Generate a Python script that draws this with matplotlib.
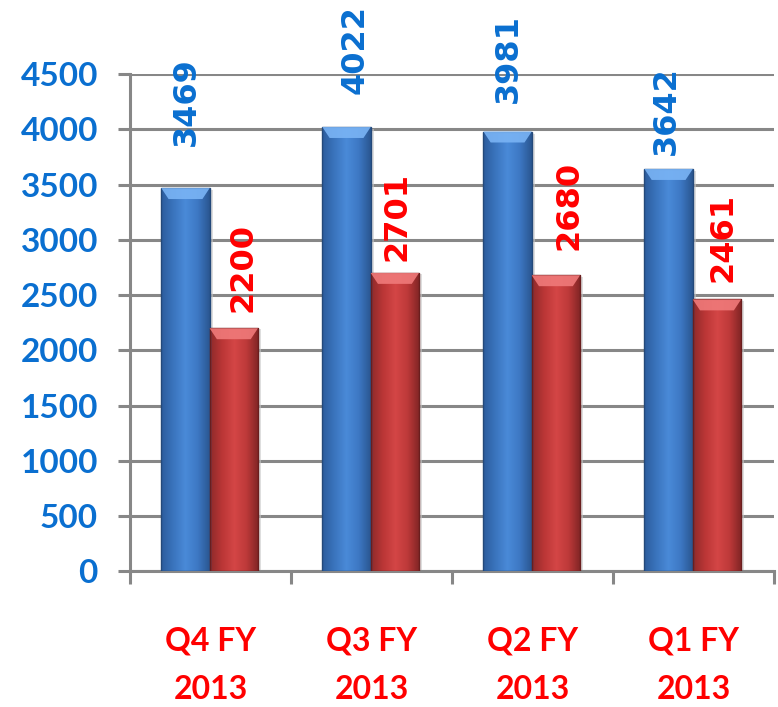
import numpy as np
import matplotlib
matplotlib.use('Agg')
import matplotlib.pyplot as plt
from matplotlib.colors import LinearSegmentedColormap
from matplotlib.patches import Rectangle, Polygon

# datos del grafico
categorias = ['Q4 FY\n2013', 'Q3 FY\n2013', 'Q2 FY\n2013', 'Q1 FY\n2013']
serie_azul = [3469, 4022, 3981, 3642]
serie_roja = [2200, 2701, 2680, 2461]
y_ticks = [0, 500, 1000, 1500, 2000, 2500, 3000, 3500, 4000, 4500]

# desplazamiento (px) de las etiquetas de valor, colocadas a mano en el original
desp_azul = [(1, 42), (9, 33), (1, 29), (-2, 14)]
desp_roja = [(9, 16), (2, 12), (13, 25), (6, 17)]

AZUL_TXT = '#0a6fd0'
ROJO_TXT = '#ff0000'
GRIS = '#878787'
PX = 72 / 100  # puntos por pixel

cmap_azul = LinearSegmentedColormap.from_list(
    'az', ['#2c5c9c', '#3a74bd', '#4a8ad8', '#3d78c4', '#2a5690'])
cmap_rojo = LinearSegmentedColormap.from_list(
    'ro', ['#8e2a2a', '#bb3636', '#d44646', '#bd3939', '#7e2424'])


def barra_3d(ax, x0, ancho, alto, cmap, tapa, borde):
    """Dibuja una barra con degradado horizontal, sombra y tapa clara"""
    # sombra
    sombra = Rectangle((x0 + ancho, 0), ancho * 0.06, alto * 0.995,
                       facecolor='#c8c8c8', edgecolor='none', alpha=0.6, zorder=2)
    ax.add_patch(sombra)
    rect = Rectangle((x0, 0), ancho, alto, facecolor='none',
                     edgecolor=borde, linewidth=1.0, zorder=4)
    ax.add_patch(rect)
    grad = np.linspace(0, 1, 256).reshape(1, -1)
    im = ax.imshow(grad, cmap=cmap, aspect='auto', extent=(x0, x0 + ancho, 0, alto),
                   zorder=3, interpolation='bicubic')
    im.set_clip_path(rect)
    # tapa superior
    h = 4500 * 0.022
    tapa_poly = Polygon([(x0, alto), (x0 + ancho, alto),
                         (x0 + ancho * 0.85, alto - h), (x0 + ancho * 0.15, alto - h)],
                        closed=True, facecolor=tapa, edgecolor='none', alpha=0.9, zorder=5)
    ax.add_patch(tapa_poly)


fig = plt.figure(figsize=(7.78, 7.07), dpi=100)
ax = fig.add_axes([0.167, 0.192, 0.828, 0.703])

x = np.arange(len(categorias))
ancho = 0.3

for i in range(len(categorias)):
    barra_3d(ax, x[i] - ancho - 0.005, ancho, serie_azul[i], cmap_azul, '#7ab4f5', '#24497a')
    barra_3d(ax, x[i] - 0.005, ancho, serie_roja[i], cmap_rojo, '#f07a7a', '#6a1e1e')
    dx, dy = desp_azul[i]
    ax.annotate(str(serie_azul[i]), (x[i] - ancho / 2 - 0.005, serie_azul[i]),
                xytext=(dx * PX, dy * PX), textcoords='offset points', rotation=90,
                ha='center', va='bottom', color=AZUL_TXT, fontsize=23,
                fontweight='bold', fontfamily='DejaVu Sans', zorder=6)
    dx, dy = desp_roja[i]
    ax.annotate(str(serie_roja[i]), (x[i] + ancho / 2 - 0.005, serie_roja[i]),
                xytext=(dx * PX, dy * PX), textcoords='offset points', rotation=90,
                ha='center', va='bottom', color=ROJO_TXT, fontsize=23,
                fontweight='bold', fontfamily='DejaVu Sans', zorder=6)

ax.set_xlim(-0.5, len(categorias) - 0.5)
ax.set_ylim(0, 4500)

# lineas de cuadricula horizontales
ax.set_yticks(y_ticks)
ax.yaxis.grid(True, color=GRIS, linewidth=2.2, zorder=0)
ax.set_axisbelow(True)

# ticks de categorias en los limites, etiquetas en el centro
ax.set_xticks(np.arange(-0.5, len(categorias)), labels=[''] * (len(categorias) + 1))
ax.set_xticks(x, labels=categorias, minor=True)
ax.tick_params(axis='x', which='major', length=9, width=2.2, color=GRIS, direction='out')
ax.tick_params(axis='x', which='minor', length=0, pad=40)
ax.tick_params(axis='y', length=9, width=2.2, color=GRIS, direction='out', pad=14)

for lbl in ax.get_xticklabels(minor=True):
    lbl.set_fontfamily('Lato')
    lbl.set_fontweight('bold')
    lbl.set_fontsize(23)
    lbl.set_color(ROJO_TXT)
    lbl.set_linespacing(1.8)
for lbl in ax.get_yticklabels():
    lbl.set_fontfamily('Lato')
    lbl.set_fontweight('bold')
    lbl.set_fontsize(24)
    lbl.set_color(AZUL_TXT)

for lado in ['top', 'right']:
    ax.spines[lado].set_visible(False)
for lado in ['left', 'bottom']:
    ax.spines[lado].set_color(GRIS)
    ax.spines[lado].set_linewidth(2.2)

plt.savefig('out.png', dpi=100)
plt.close()
